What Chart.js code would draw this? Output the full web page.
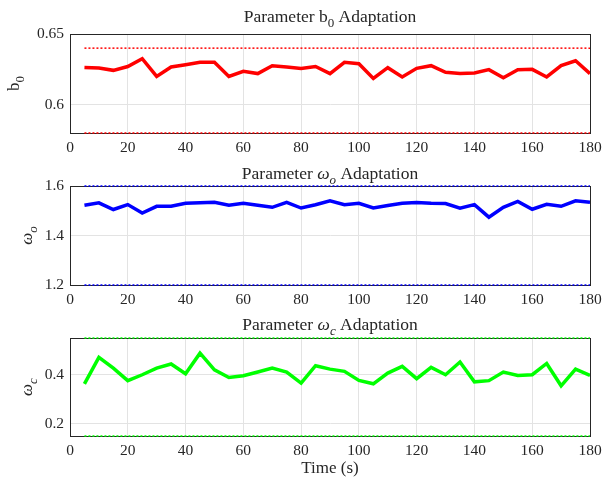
<!DOCTYPE html>
<html>
<head>
<meta charset="utf-8">
<script src="https://cdn.jsdelivr.net/npm/chart.js@4"></script>
<style>
  body { margin: 0; background: #fff; }
  .panel { position: absolute; left: 0; width: 602px; }
  #c1 { top: 0; height: 160px; }
  #c2 { top: 160px; height: 150px; }
  #c3 { top: 310px; height: 173px; }
</style>
</head>
<body>
<div class="panel" id="c1"><canvas id="chart1"></canvas></div>
<div class="panel" id="c2"><canvas id="chart2"></canvas></div>
<div class="panel" id="c3"><canvas id="chart3"></canvas></div>
<script>
// Données
const temps = [5,10,15,20,25,30,35,40,45,50,55,60,65,70,75,80,85,90,95,100,105,110,115,120,125,130,135,140,145,150,155,160,165,170,175,180];
const b0Valeurs = [0.6264,0.626,0.6243,0.627,0.6325,0.620,0.6267,0.6283,0.630,0.630,0.620,0.6236,0.622,0.6276,0.6267,0.6257,0.627,0.622,0.630,0.629,0.6186,0.6262,0.6196,0.6257,0.6276,0.6229,0.622,0.6224,0.6248,0.6191,0.6248,0.625,0.6196,0.6276,0.6311,0.622];
const woValeurs = [1.522,1.532,1.505,1.525,1.491,1.518,1.518,1.530,1.532,1.534,1.522,1.530,1.522,1.514,1.534,1.511,1.524,1.540,1.524,1.530,1.511,1.521,1.530,1.533,1.530,1.529,1.510,1.525,1.474,1.514,1.538,1.506,1.526,1.518,1.540,1.534];
const wcValeurs = [0.363,0.471,0.427,0.376,0.400,0.427,0.444,0.404,0.488,0.420,0.389,0.396,0.411,0.427,0.411,0.366,0.437,0.423,0.414,0.377,0.363,0.407,0.434,0.384,0.430,0.400,0.452,0.371,0.376,0.411,0.397,0.400,0.446,0.355,0.423,0.397];

// Bornes (lignes pointillées)
const tempsBornes = [5, 180];
const b0Bornes = [0.58, 0.64];
const woBornes = [1.2, 1.6];
const wcBornes = [0.15, 0.55];

// Axes
const xTicks = [0,20,40,60,80,100,120,140,160,180];
const b0Ticks = [0.6, 0.65];
const woTicks = [1.2, 1.4, 1.6];
const wcTicks = [0.2, 0.4];

const FONT = '"Liberation Serif", "Times New Roman", serif';
const TEXTE = '#262626';

// Titre et label Y avec indices (b_0, omega_o, omega_c)
const labelsPlugin = {
    id: 'labelsIndices',
    beforeDatasetsDraw(chart) {
        // cadre complet (box on), sous les courbes
        const ctx = chart.ctx;
        const area = chart.chartArea;
        ctx.save();
        ctx.strokeStyle = TEXTE;
        ctx.lineWidth = 1;
        ctx.strokeRect(Math.round(area.left) + 0.5, Math.round(area.top) + 0.5,
            Math.round(area.right - area.left), Math.round(area.bottom - area.top));
        ctx.restore();
    },
    afterDraw(chart, args, opts) {
        const ctx = chart.ctx;
        const area = chart.chartArea;
        ctx.save();
        ctx.fillStyle = TEXTE;
        ctx.textBaseline = 'alphabetic';
        // titre
        const cx = (area.left + area.right) / 2;
        dessinerMorceaux(ctx, opts.titre, cx, area.top - opts.titreDecalage, 17.5);
        // label y (tourné)
        ctx.translate(opts.yLabelX, (area.top + area.bottom) / 2);
        ctx.rotate(-Math.PI / 2);
        dessinerMorceaux(ctx, opts.yLabel, 0, 0, 17);
        ctx.restore();
    }
};

function dessinerMorceaux(ctx, morceaux, cx, y, taille) {
    const polices = morceaux.map(m => {
        const t = m.sub ? Math.round(taille * 0.74) : taille;
        return (m.italic ? 'italic ' : '') + t + 'px ' + FONT;
    });
    let largeur = 0;
    morceaux.forEach((m, i) => { ctx.font = polices[i]; largeur += ctx.measureText(m.t).width; });
    let x = cx - largeur / 2;
    ctx.textAlign = 'left';
    morceaux.forEach((m, i) => {
        ctx.font = polices[i];
        ctx.fillText(m.t, x, y + (m.sub ? taille * 0.3 : 0));
        x += ctx.measureText(m.t).width;
    });
}

function creerGraphique(id, cfg) {
    const ctx = document.getElementById(id);
    return new Chart(ctx, {
        type: 'line',
        data: {
            datasets: [
                {
                    data: temps.map((t, i) => ({ x: t, y: cfg.valeurs[i] })),
                    borderColor: cfg.couleur,
                    borderWidth: 3.5,
                    pointRadius: 0,
                    tension: 0
                },
                {
                    data: tempsBornes.map(t => ({ x: t, y: cfg.bornes[1] })),
                    borderColor: cfg.couleur,
                    borderWidth: 1.5,
                    borderDash: [2, 2],
                    pointRadius: 0,
                    clip: false
                },
                {
                    data: tempsBornes.map(t => ({ x: t, y: cfg.bornes[0] })),
                    borderColor: cfg.couleur,
                    borderWidth: 1.5,
                    borderDash: [2, 2],
                    pointRadius: 0,
                    clip: false
                }
            ]
        },
        options: {
            responsive: true,
            maintainAspectRatio: false,
            animation: false,
            layout: { padding: { top: cfg.hautPlot, right: 12, left: 0, bottom: 0 } },
            plugins: {
                legend: { display: false },
                tooltip: { enabled: false },
                labelsIndices: {
                    titre: cfg.titre,
                    yLabel: cfg.yLabel,
                    titreDecalage: cfg.titreDecalage,
                    yLabelX: cfg.yLabelX
                }
            },
            scales: {
                x: {
                    type: 'linear',
                    min: 0,
                    max: 180,
                    afterBuildTicks: s => { s.ticks = xTicks.map(v => ({ value: v })); },
                    afterFit: s => { s.height = cfg.hauteurX; s.paddingLeft = 0; s.paddingRight = 0; },
                    grid: { color: '#e3e3e3', drawTicks: false },
                    border: { color: TEXTE },
                    ticks: { color: TEXTE, padding: 6, maxRotation: 0, font: { family: FONT, size: 15.5 } },
                    title: {
                        display: !!cfg.xTitre,
                        text: cfg.xTitre || '',
                        color: TEXTE,
                        padding: { top: 0, bottom: 4 },
                        font: { family: FONT, size: 17 }
                    }
                },
                y: {
                    min: cfg.bornesAxe[0],
                    max: cfg.bornesAxe[1],
                    afterBuildTicks: s => { s.ticks = cfg.ticks.map(v => ({ value: v })); },
                    afterFit: s => { s.width = 70; },
                    grid: { color: '#e3e3e3', drawTicks: false },
                    border: { color: TEXTE },
                    ticks: { color: TEXTE, padding: 6, font: { family: FONT, size: 15.5 }, callback: v => String(v) }
                }
            }
        },
        plugins: [labelsPlugin]
    });
}

creerGraphique('chart1', {
    valeurs: b0Valeurs, bornes: b0Bornes, couleur: '#ff0000',
    bornesAxe: [0.58, 0.65], ticks: b0Ticks,
    hautPlot: 34, hauteurX: 27, titreDecalage: 12, yLabelX: 19,
    titre: [{ t: 'Parameter b' }, { t: '0', sub: true }, { t: ' Adaptation' }],
    yLabel: [{ t: 'b' }, { t: '0', sub: true }]
});

creerGraphique('chart2', {
    valeurs: woValeurs, bornes: woBornes, couleur: '#0000ff',
    bornesAxe: [1.2, 1.6], ticks: woTicks,
    hautPlot: 26, hauteurX: 25, titreDecalage: 7, yLabelX: 32,
    titre: [{ t: 'Parameter ' }, { t: 'ω', italic: true }, { t: 'o', sub: true, italic: true }, { t: ' Adaptation' }],
    yLabel: [{ t: 'ω', italic: true }, { t: 'o', sub: true, italic: true }]
});

creerGraphique('chart3', {
    valeurs: wcValeurs, bornes: wcBornes, couleur: '#00ff00',
    bornesAxe: [0.15, 0.55], ticks: wcTicks,
    hautPlot: 28, hauteurX: 47, titreDecalage: 8, yLabelX: 32,
    xTitre: 'Time (s)',
    titre: [{ t: 'Parameter ' }, { t: 'ω', italic: true }, { t: 'c', sub: true, italic: true }, { t: ' Adaptation' }],
    yLabel: [{ t: 'ω', italic: true }, { t: 'c', sub: true, italic: true }]
});
</script>
</body>
</html>
